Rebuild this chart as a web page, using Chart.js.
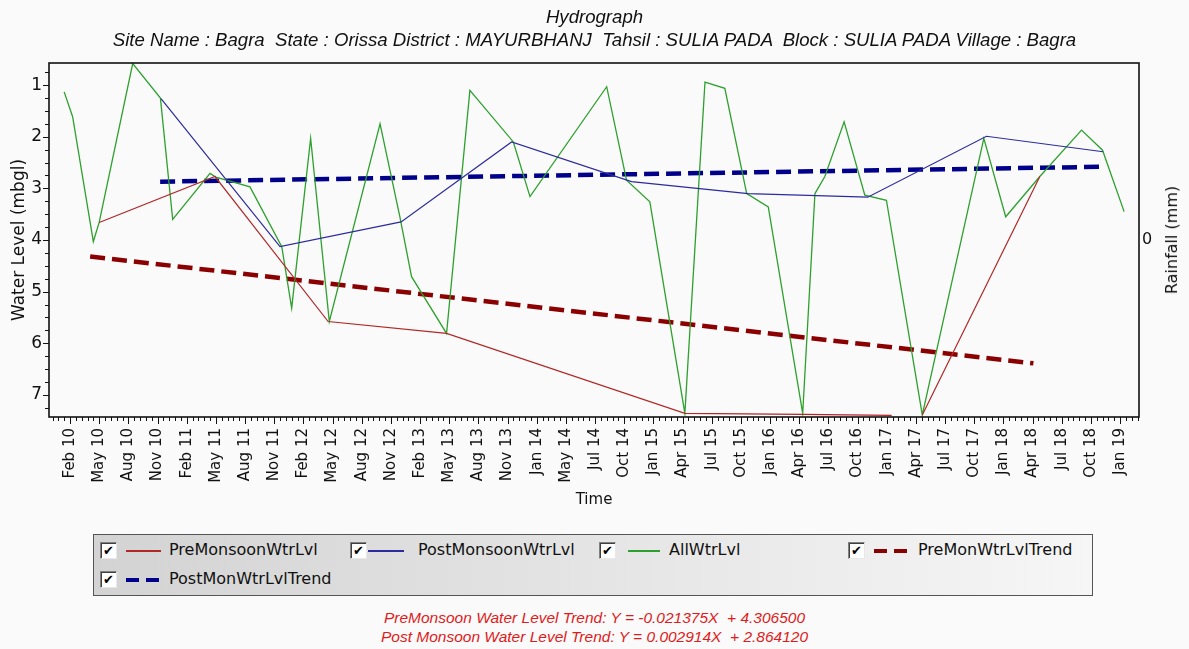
<!DOCTYPE html>
<html>
<head>
<meta charset="utf-8">
<script src="https://cdn.jsdelivr.net/npm/chart.js@4.4.0/dist/chart.umd.min.js"></script>
<style>
html,body{margin:0;padding:0;background:#fafafa;}
#wrap{position:relative;width:1189px;height:649px;overflow:hidden;font-family:"DejaVu Sans",sans-serif;color:#111;}
#c{position:absolute;left:0;top:0;}
.ttl{position:absolute;left:0;width:1189px;text-align:center;font-family:"Liberation Sans",Arial,sans-serif;font-style:italic;white-space:pre;color:#111;font-size:18.6px;line-height:20px;}
.foot{position:absolute;left:0;width:1189px;text-align:center;font-family:"Liberation Sans",Arial,sans-serif;font-style:italic;white-space:pre;color:#e01b1b;font-size:15.5px;line-height:17px;}
#rain{position:absolute;left:1172px;top:240px;transform:translate(-50%,-50%) rotate(-90deg);font-size:16px;white-space:nowrap;line-height:18px;}
#legend{position:absolute;left:93px;top:534px;width:998px;height:60px;border:1px solid #555;background:linear-gradient(to right,#d3d3d3,#f6f6f6);}
.cb{position:absolute;width:15px;height:15px;background:#fff;border-top:1px solid #808080;border-left:1px solid #808080;border-right:1px solid #e8e8e8;border-bottom:1px solid #e8e8e8;box-shadow:inset 1px 1px 0 #404040;font-size:13px;line-height:16px;text-align:center;color:#000;font-weight:bold;}
.ln{position:absolute;}
.lbl{position:absolute;font-size:16px;line-height:18px;white-space:nowrap;color:#111;}
</style>
</head>
<body>
<div id="wrap">
<canvas id="c" width="1189" height="520"></canvas>
<div class="ttl" style="top:7px">Hydrograph</div>
<div class="ttl" style="top:30px">Site Name : Bagra  State : Orissa District : MAYURBHANJ  Tahsil : SULIA PADA  Block : SULIA PADA Village : Bagra</div>
<div id="rain">Rainfall (mm)</div>
<div id="legend"></div>
<div class="foot" style="top:609px">PreMonsoon Water Level Trend: Y = -0.021375X  + 4.306500</div>
<div class="foot" style="top:628px">Post Monsoon Water Level Trend: Y = 0.002914X  + 2.864120</div>
</div>
<script>
// ---- data (x in units of the axis tick spacing; tick i = tickLabels[i]) ----
const tickLabels = ['Feb 10','May 10','Aug 10','Nov 10','Feb 11','May 11','Aug 11','Nov 11','Feb 12','May 12','Aug 12','Nov 12','Feb 13','May 13','Aug 13','Nov 13','Jan 14','May 14','Jul 14','Oct 14','Jan 15','Apr 15','Jul 15','Oct 15','Jan 16','Apr 16','Jul 16','Oct 16','Jan 17','Apr 17','Jul 17','Oct 17','Jan 18','Apr 18','Jul 18','Oct 18','Jan 19'];
const yTickValues = [1,2,3,4,5,6,7];
const rainTickValues = [0];

const preT   = [1.00, 4.97, 8.85, 12.91, 21.08, 25.12, 28.17, null, 29.22, 33.25];
const preLvl = [3.66, 2.77, 5.58, 5.81, 7.36, 7.38, 7.40, null, 7.39, 2.77];

const postT   = [3.12, 7.20, 11.35, 15.14, 19.25, 23.25, 27.35, 31.42, 35.42];
const postLvl = [1.26, 4.13, 3.65, 2.10, 2.87, 3.10, 3.17, 1.99, 2.29];

const allT   = [-0.20, 0.09, 0.80, 1.00, 2.15, 3.10, 3.52, 4.80, 5.00, 6.17, 7.26, 7.60, 8.25, 8.89, 10.63, 11.31, 11.71, 12.91, 13.71, 15.20, 15.77, 18.40, 19.08, 19.88, 21.08, 21.77, 22.45, 23.20, 23.94, 25.12, 25.54, 25.88, 26.54, 27.25, 27.99, 29.22, 31.33, 32.08, 33.25, 34.68, 35.40, 36.14];
const allLvl = [1.13, 1.61, 4.03, 3.66, 0.58, 1.25, 3.60, 2.71, 2.78, 2.97, 4.13, 5.32, 2.03, 5.58, 1.75, 3.55, 4.71, 5.81, 1.10, 2.10, 3.16, 1.03, 2.84, 3.26, 7.36, 0.94, 1.06, 3.10, 3.36, 7.36, 3.10, 2.77, 1.71, 3.13, 3.23, 7.39, 2.03, 3.55, 2.77, 1.87, 2.26, 3.45];

const preTrendT   = [0.69, 33.03];
const preTrendLvl = [4.32, 6.39];
const postTrendT   = [3.09, 35.48];
const postTrendLvl = [2.87, 2.58];

const seriesNames = ['PreMonsoonWtrLvl','PostMonsoonWtrLvl','AllWtrLvl','PreMonWtrLvlTrend','PostMonWtrLvlTrend'];
const seriesColors = ['#b02828','#2b2b9e','#2ea02e','#8b0000','#00008b'];

// ---- legend (HTML), positions relative to the legend box ----
const legendRowTop = [7,7,7,7,36];
const legendBoxX  = [6,256,505,754,6];
const legendLineX = [32,274,534,780,32];
const legendLineW = [35,36,32,33,35];
const legendTextX = [75,324,575,824,75];
const legend = document.getElementById('legend');
seriesNames.forEach((name,i)=>{
  const top = legendRowTop[i];
  const cb = document.createElement('span'); cb.className='cb';
  cb.style.left = legendBoxX[i]+'px'; cb.style.top = top+'px'; cb.textContent='✔';
  const ln = document.createElement('div'); ln.className='ln';
  ln.style.left = legendLineX[i]+'px'; ln.style.width = legendLineW[i]+'px';
  if (i>=3){
    ln.style.top = (top+7)+'px'; ln.style.height='4px';
    ln.style.background='repeating-linear-gradient(to right,'+seriesColors[i]+' 0 13px,transparent 13px 20px)';
  } else {
    ln.style.top = (top+8)+'px'; ln.style.height='1.5px';
    ln.style.background = seriesColors[i];
  }
  const lb = document.createElement('span'); lb.className='lbl';
  lb.style.left = legendTextX[i]+'px'; lb.style.top = (top-1)+'px'; lb.textContent = name;
  legend.appendChild(cb); legend.appendChild(ln); legend.appendChild(lb);
});

// ---- chart ----
const toPts = (xs, ys) => xs.map((x,i)=>({x:x, y:ys[i]}));

const framePlugin = {
  id:'frame',
  afterDraw(chart){
    const {ctx, chartArea:a, scales} = chart;
    const x = scales.x, y = scales.y;
    ctx.save();
    ctx.strokeStyle='#111';
    ctx.lineWidth=1;
    ctx.beginPath();
    for(let k=Math.ceil(x.min*5); k<=Math.floor(x.max*5); k++){
      const px=Math.round(x.getPixelForValue(k/5))+0.5;
      const len=(k%5===0)?7:4;
      ctx.moveTo(px,a.bottom); ctx.lineTo(px,a.bottom+len);
    }
    for(let k=Math.ceil(y.min*4); k<=Math.floor(y.max*4); k++){
      const py=Math.round(y.getPixelForValue(k/4))+0.5;
      const len=(k%4===0)?6:4;
      ctx.moveTo(a.left,py); ctx.lineTo(a.left-len,py);
    }
    ctx.stroke();
    ctx.lineWidth=1.6;
    ctx.strokeRect(a.left,a.top,a.right-a.left,a.bottom-a.top);
    ctx.restore();
  }
};

Chart.defaults.font.family = "'DejaVu Sans', sans-serif";
Chart.defaults.color = '#111';

new Chart(document.getElementById('c'), {
  type:'line',
  data:{datasets:[
    {label:seriesNames[0], data:toPts(preT,preLvl), borderColor:seriesColors[0], borderWidth:1.2, spanGaps:false},
    {label:seriesNames[1], data:toPts(postT,postLvl), borderColor:seriesColors[1], borderWidth:1.2},
    {label:seriesNames[2], data:toPts(allT,allLvl), borderColor:seriesColors[2], borderWidth:1.3},
    {label:seriesNames[3], data:toPts(preTrendT,preTrendLvl), borderColor:seriesColors[3], borderWidth:4.5, borderDash:[15,7]},
    {label:seriesNames[4], data:toPts(postTrendT,postTrendLvl), borderColor:seriesColors[4], borderWidth:4.5, borderDash:[15,7]}
  ]},
  options:{
    responsive:false, animation:false, devicePixelRatio:1,
    layout:{padding:{top:63,left:0,right:0,bottom:0}},
    elements:{point:{radius:0,hoverRadius:0}, line:{tension:0, fill:false}},
    plugins:{legend:{display:false}, tooltip:{enabled:false}, title:{display:false}},
    scales:{
      x:{type:'linear', min:-0.72, max:36.65,
        afterBuildTicks:s=>{ s.ticks = tickLabels.map((_,i)=>({value:i})); },
        afterFit:s=>{ s.height=103; },
        grid:{display:false, drawTicks:false}, border:{display:false},
        ticks:{autoSkip:false, maxRotation:90, minRotation:90, padding:11, font:{size:15}, callback:v=>tickLabels[v]},
        title:{display:true, text:'Time', font:{size:15}, padding:{top:0,bottom:11}}
      },
      y:{position:'left', reverse:true, min:0.57, max:7.43,
        afterBuildTicks:s=>{ s.ticks = yTickValues.map(v=>({value:v})); },
        afterFit:s=>{ s.width=49; },
        grid:{display:false, drawTicks:false}, border:{display:false},
        ticks:{padding:7, font:{size:17}},
        title:{display:true, text:'Water Level (mbgl)', font:{size:17}, padding:{top:9,bottom:0}}
      },
      y2:{position:'right', min:-1, max:1,
        afterBuildTicks:s=>{ s.ticks = rainTickValues.map(v=>({value:v})); },
        afterFit:s=>{ s.width=50; },
        grid:{display:false, drawTicks:false}, border:{display:false},
        ticks:{padding:3, font:{size:16}}
      }
    }
  },
  plugins:[framePlugin]
});
</script>
</body>
</html>
